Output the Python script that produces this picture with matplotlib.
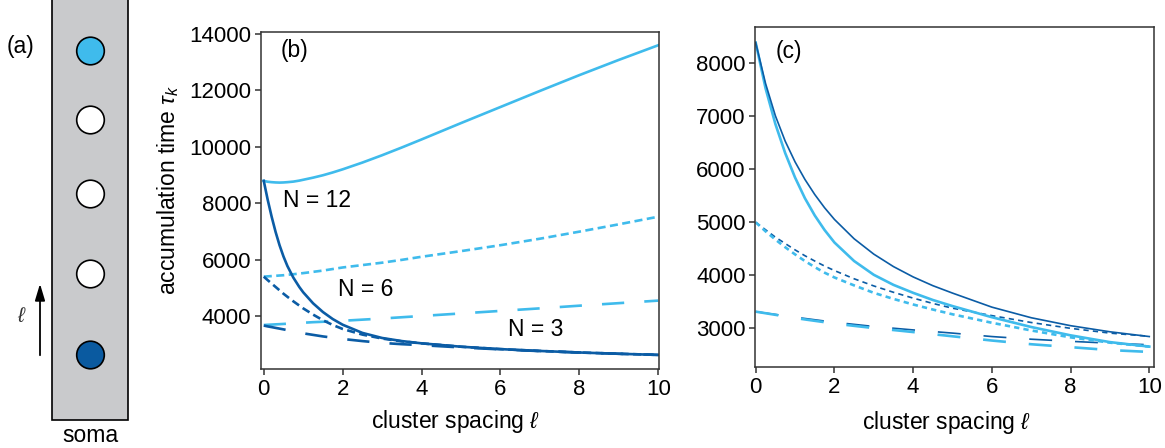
import matplotlib
matplotlib.use("Agg")
import matplotlib.pyplot as plt
from matplotlib.patches import Rectangle, Circle

plt.rcParams['font.family'] = ['Liberation Sans', 'DejaVu Sans']
plt.rcParams['mathtext.fontset'] = 'custom'
plt.rcParams['mathtext.rm'] = 'Liberation Sans'
plt.rcParams['mathtext.it'] = 'Liberation Sans:italic'
plt.rcParams['lines.scale_dashes'] = False

LIGHT = '#3fbbec'
DARK = '#0b5ca5'

# ---------------- panel (b): clusters fed from the far end vs. near the soma
xb = [0, 0.1, 0.2, 0.3, 0.4, 0.5, 0.6, 0.75, 0.9, 1.0, 1.25, 1.5, 1.75,
      2.0, 2.5, 3.0, 3.5, 4.0, 5.0, 6.0, 7.0, 8.0, 9.0, 10.0]
b_n12_far = [8790, 8760, 8745, 8735, 8730, 8735, 8745, 8765, 8800, 8830, 8905,
             8990, 9090, 9200, 9440, 9700, 9975, 10260, 10840, 11410, 11980,
             12540, 13080, 13600]
b_n12_near = [8790, 8120, 7520, 6980, 6510, 6110, 5770, 5360, 5030, 4840, 4450,
              4140, 3890, 3690, 3400, 3220, 3110, 3030, 2910, 2825, 2760,
              2705, 2660, 2620]
b_n6_far = [5395, 5405, 5415, 5425, 5435, 5445, 5460, 5480, 5505, 5520, 5565,
            5610, 5665, 5720, 5805, 5890, 5990, 6100, 6300, 6510, 6740, 6990,
            7250, 7520]
b_n6_near = [5395, 5270, 5150, 5030, 4910, 4790, 4680, 4520, 4370, 4270, 4050,
             3850, 3680, 3540, 3340, 3200, 3100, 3030, 2910, 2825, 2760, 2705,
             2660, 2620]
b_n3_far = [3680, 3688, 3695, 3703, 3710, 3718, 3726, 3738, 3750, 3760, 3780,
            3795, 3812, 3830, 3870, 3910, 3955, 4000, 4090, 4180, 4270, 4365,
            4455, 4545]
b_n3_near = [3660, 3630, 3605, 3578, 3552, 3525, 3498, 3460, 3415, 3385, 3330,
             3275, 3230, 3185, 3110, 3045, 3000, 2965, 2885, 2815, 2755, 2705,
             2660, 2620]

# ---------------- panel (c)
xc = [0, 0.25, 0.5, 0.75, 1.0, 1.25, 1.5, 1.75, 2.0, 2.5, 3.0, 3.5, 4.0,
      4.5, 5.0, 6.0, 7.0, 8.0, 9.0, 10.0]
c_solid_light = [8390, 7530, 6855, 6305, 5845, 5455, 5130, 4855, 4620, 4270,
                 4010, 3820, 3670, 3535, 3420, 3210, 3025, 2868, 2740, 2655]
c_solid_dark = [8390, 7620, 7010, 6530, 6140, 5810, 5525, 5275, 5055, 4690,
                4400, 4165, 3970, 3805, 3665, 3400, 3200, 3050, 2935, 2845]
c_dot_light = [5000, 4830, 4675, 4530, 4395, 4270, 4155, 4050, 3960, 3810,
               3670, 3555, 3450, 3355, 3265, 3105, 2960, 2830, 2730, 2655]
c_dot_dark = [5000, 4860, 4720, 4600, 4480, 4370, 4270, 4175, 4090, 3935,
              3800, 3680, 3570, 3470, 3380, 3240, 3110, 3000, 2910, 2850]
c_dash_light = [3315, 3285, 3255, 3225, 3195, 3168, 3142, 3116, 3090, 3047,
                3005, 2968, 2930, 2890, 2850, 2770, 2700, 2645, 2590, 2555]
c_dash_dark = [3315, 3288, 3262, 3236, 3210, 3186, 3162, 3138, 3115, 3075,
               3035, 3002, 2970, 2940, 2910, 2845, 2795, 2755, 2720, 2690]

# ---------------- panel (a): schematic dendrite
cluster_y = [51, 120, 194, 274, 355]
cluster_fill = [LIGHT, 'white', 'white', 'white', '#0a5aa0']

W, H = 1165, 448
fig = plt.figure(figsize=(W / 100, H / 100), dpi=100)

FS_TICK = 16
FS_TEXT = 16.5


def px_axes(left, top, right, bottom):
    return [left / W, 1 - bottom / H, (right - left) / W, (bottom - top) / H]


# schematic
axa = fig.add_axes([0, 0, 160 / W, 1])
axa.set_xlim(0, 160)
axa.set_ylim(H, 0)
axa.set_axis_off()
axa.add_patch(Rectangle((52, -10), 76, 430, facecolor='#c9cacc',
                        edgecolor='black', lw=1.2))
for yy, fc in zip(cluster_y, cluster_fill):
    axa.add_patch(Circle((90.5, yy), 13.8, facecolor=fc, edgecolor='black',
                         lw=1.2, zorder=3))
axa.annotate('', xy=(40, 281), xytext=(40, 358),
             arrowprops=dict(arrowstyle='-|>,head_length=1.0,head_width=0.3',
                             color='black', lw=1.3))
axa.text(22, 316, r'$\ell$', ha='center', va='center', fontsize=15,
         color='#333333')
axa.text(21, 47, '(a)', ha='center', va='center', fontsize=FS_TEXT)
axa.text(90, 436, 'soma', ha='center', va='center', fontsize=FS_TEXT)


def style(ax):
    for s in ax.spines.values():
        s.set_linewidth(1.1)
        s.set_color('#333333')
    ax.tick_params(direction='out', length=4, width=1.1, pad=3,
                   labelsize=FS_TICK, colors='#333333', labelcolor='black')


LONG = (0, (16, 14.5))
DOT_B = (0, (5.8, 3.2))
DOT_C = (0, (3.8, 3.0))

# panel (b)
axb = fig.add_axes(px_axes(261, 32, 659, 369))
lw = 1.9
axb.plot(xb, b_n12_far, color=LIGHT, lw=lw)
axb.plot(xb, b_n6_far, color=LIGHT, lw=lw, linestyle=DOT_B)
axb.plot(xb, b_n3_far, color=LIGHT, lw=lw, linestyle=LONG)
axb.plot(xb, b_n3_near, color=DARK, lw=lw, linestyle=LONG)
axb.plot(xb, b_n6_near, color=DARK, lw=lw, linestyle=DOT_B)
axb.plot(xb, b_n12_near, color=DARK, lw=lw)
axb.set_xlim(-0.07, 10.02)
axb.set_ylim(2120, 14070)
axb.set_xticks([0, 2, 4, 6, 8, 10])
axb.set_yticks([4000, 6000, 8000, 10000, 12000, 14000])
style(axb)
axb.text(0.083, 0.944, '(b)', transform=axb.transAxes, ha='center',
         va='center', fontsize=FS_TEXT)
axb.text(0.141, 0.501, 'N = 12', transform=axb.transAxes, ha='center',
         va='center', fontsize=FS_TEXT)
axb.text(0.264, 0.237, 'N = 6', transform=axb.transAxes, ha='center',
         va='center', fontsize=FS_TEXT)
axb.text(0.691, 0.116, 'N = 3', transform=axb.transAxes, ha='center',
         va='center', fontsize=FS_TEXT)
fig.text(168 / W, 1 - 190 / H, r'accumulation time $\tau_k$', rotation=90,
         ha='center', va='center', fontsize=FS_TEXT)
fig.text(456 / W, 1 - 421 / H, r'cluster spacing $\ell$', ha='center',
         va='center', fontsize=FS_TEXT)

# panel (c)
axc = fig.add_axes(px_axes(755.3, 26.7, 1154, 367.3))
DASH_C = (0, (16.5, 16.5))
axc.plot(xc, c_dash_dark, color=DARK, lw=1.2, linestyle=DASH_C)
axc.plot(xc, c_dash_light, color=LIGHT, lw=1.9, linestyle=DASH_C)
axc.plot(xc, c_dot_dark, color=DARK, lw=1.2, linestyle=DOT_C)
axc.plot(xc, c_dot_light, color=LIGHT, lw=1.9, linestyle=DOT_C)
axc.plot(xc, c_solid_light, color=LIGHT, lw=1.9)
axc.plot(xc, c_solid_dark, color=DARK, lw=1.2)
axc.set_xlim(-0.01, 10.12)
axc.set_ylim(2265, 8690)
axc.set_xticks([0, 2, 4, 6, 8, 10])
axc.set_yticks([3000, 4000, 5000, 6000, 7000, 8000])
style(axc)
axc.text(0.0845, 0.927, '(c)', transform=axc.transAxes, ha='center',
         va='center', fontsize=FS_TEXT)
fig.text(947 / W, 1 - 422 / H, r'cluster spacing $\ell$', ha='center',
         va='center', fontsize=FS_TEXT)

fig.savefig('out.png', dpi=100)
